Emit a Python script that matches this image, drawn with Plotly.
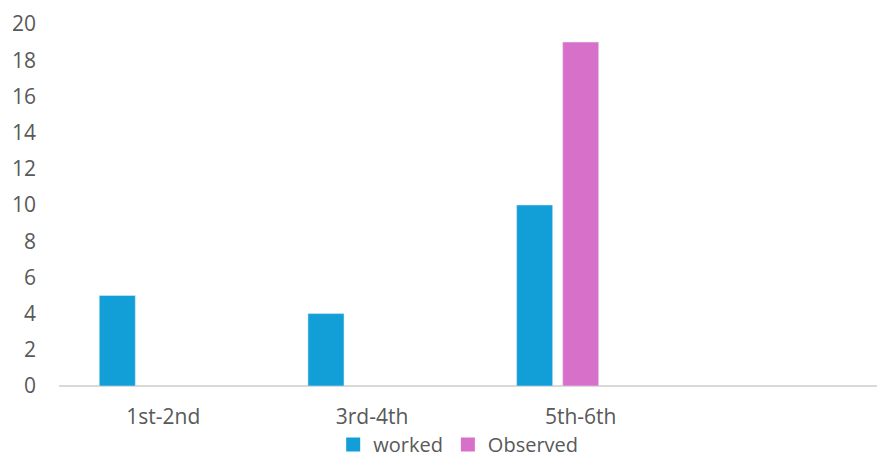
import plotly.graph_objects as go

# Grade bands and counts per series
categories = ["1st-2nd", "3rd-4th", "5th-6th"]
worked = [5, 4, 10]
observed = [None, None, 19]
spare = [None, None, None]  # empty third series keeps its slot in each group

y_ticks = [0, 2, 4, 6, 8, 10, 12, 14, 16, 18, 20]

BLUE = "#129FD7"
PINK = "#D770C9"
TEXT = "#595959"
FONT = "Open Sans"
SIZE = 21

fig = go.Figure()
fig.add_trace(go.Bar(x=categories, y=worked, name="worked", marker_color=BLUE,
                     showlegend=False))
fig.add_trace(go.Bar(x=categories, y=observed, name="Observed", marker_color=PINK,
                     showlegend=False))
fig.add_trace(go.Bar(x=categories, y=spare, name="", marker_color="#A5A5A5",
                     showlegend=False))

# Legend entries with square swatches
for name, color in [("worked", BLUE), ("Observed", PINK)]:
    fig.add_trace(go.Scatter(x=[None], y=[None], mode="markers", name=name,
                             marker=dict(symbol="square", size=14, color=color)))

fig.update_layout(
    width=878, height=459,
    margin=dict(l=59, r=1, t=24, b=73, autoexpand=False),
    paper_bgcolor="white", plot_bgcolor="white",
    barmode="group", bargap=0.338, bargroupgap=0.217,
    font=dict(family=FONT, size=SIZE, color=TEXT),
    showlegend=True,
    legend=dict(orientation="h", x=0.488, xanchor="center", y=-0.2155, yanchor="bottom",
                font=dict(family=FONT, size=20, color=TEXT),
                itemwidth=30, tracegroupgap=0, borderwidth=0,
                bgcolor="rgba(0,0,0,0)"),
)
fig.update_xaxes(type="category", range=[-0.5, 3.42], showgrid=False, automargin=False,
                 showline=False, ticks="", tickfont=dict(size=SIZE, color=TEXT),
                 ticklabelstandoff=16)
fig.update_yaxes(range=[0, 20], tickvals=y_ticks, showgrid=False, showline=False,
                 automargin=False,
                 zeroline=True, zerolinecolor="#D9D9D9", zerolinewidth=2,
                 ticks="", ticklabelstandoff=22, tickfont=dict(size=SIZE, color=TEXT))

fig.write_html("out.html")
